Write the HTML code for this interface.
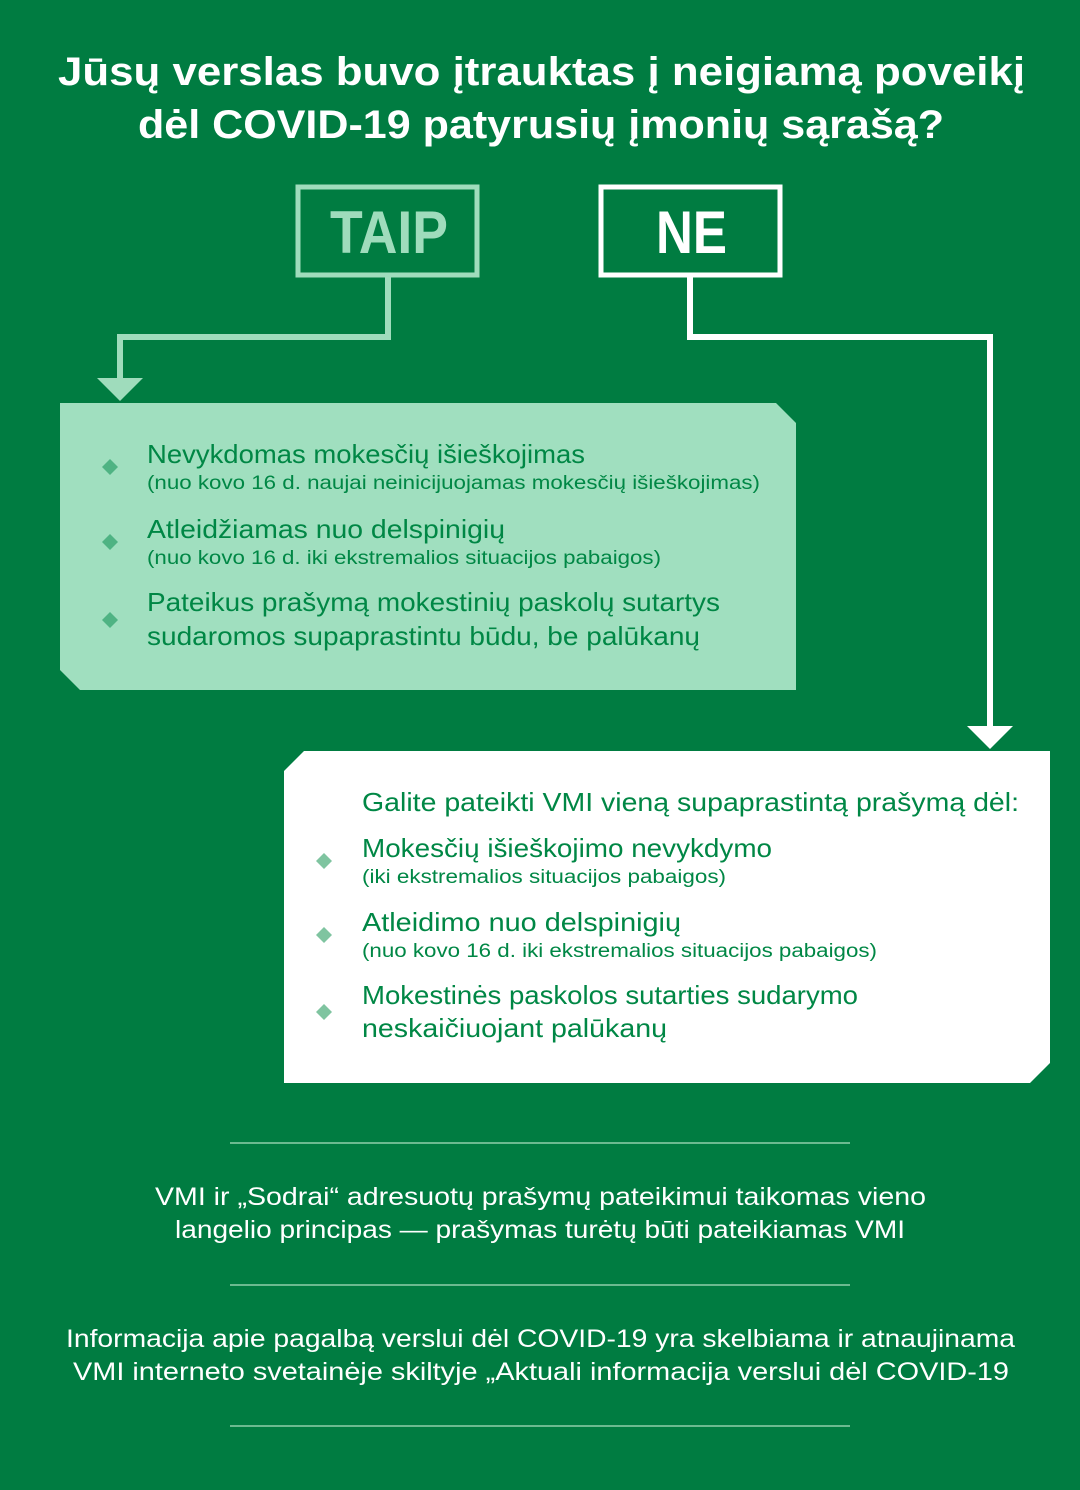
<!DOCTYPE html>
<html><head><meta charset="utf-8"><style>
html,body{margin:0;padding:0;background:#007c41;}
svg{display:block;}
text{font-family:"Liberation Sans",sans-serif;}
</style></head><body>
<svg width="1080" height="1490" viewBox="0 0 1080 1490" xmlns="http://www.w3.org/2000/svg">
<rect width="1080" height="1490" fill="#007c41"/>
<g fill="#ffffff" font-weight="bold" font-size="40">
<text x="58" y="85" textLength="967" lengthAdjust="spacingAndGlyphs">Jūsų verslas buvo įtrauktas į neigiamą poveikį</text>
<text x="138" y="138" textLength="806" lengthAdjust="spacingAndGlyphs">dėl COVID-19 patyrusių įmonių sąrašą?</text>
</g>
<rect x="298" y="187" width="179" height="88" fill="none" stroke="#9fdcbc" stroke-width="5"/>
<text x="330" y="253" font-size="60" font-weight="bold" fill="#9fdcbc" textLength="118" lengthAdjust="spacingAndGlyphs">TAIP</text>
<rect x="601" y="187" width="179" height="88" fill="none" stroke="#ffffff" stroke-width="5"/>
<text x="656" y="253" font-size="60" font-weight="bold" fill="#ffffff" textLength="71" lengthAdjust="spacingAndGlyphs">NE</text>
<polyline points="388,276 388,337 120,337 120,382" fill="none" stroke="#9fdcbc" stroke-width="6"/>
<polygon points="97,378 143,378 120,401" fill="#9fdcbc"/>
<polyline points="690,276 690,337 990,337 990,730" fill="none" stroke="#ffffff" stroke-width="6"/>
<polygon points="967,726 1013,726 990,749" fill="#ffffff"/>
<polygon points="60,403 776,403 796,423 796,690 80,690 60,670" fill="#a0dfbf"/>
<g fill="#4fb383">
<polygon points="110,459 118,467 110,475 102,467"/>
<polygon points="110,534 118,542 110,550 102,542"/>
<polygon points="110,612 118,620 110,628 102,620"/>
</g>
<g fill="#008745">
<text x="147" y="463" font-size="26" textLength="438" lengthAdjust="spacingAndGlyphs">Nevykdomas mokesčių išieškojimas</text>
<text x="147" y="489" font-size="19" textLength="613" lengthAdjust="spacingAndGlyphs">(nuo kovo 16 d. naujai neinicijuojamas mokesčių išieškojimas)</text>
<text x="147" y="538" font-size="26" textLength="358" lengthAdjust="spacingAndGlyphs">Atleidžiamas nuo delspinigių</text>
<text x="147" y="564" font-size="19" textLength="514" lengthAdjust="spacingAndGlyphs">(nuo kovo 16 d. iki ekstremalios situacijos pabaigos)</text>
<text x="147" y="611" font-size="26" textLength="573" lengthAdjust="spacingAndGlyphs">Pateikus prašymą mokestinių paskolų sutartys</text>
<text x="147" y="645" font-size="26" textLength="553" lengthAdjust="spacingAndGlyphs">sudaromos supaprastintu būdu, be palūkanų</text>
</g>
<polygon points="304,751 1050,751 1050,1063 1030,1083 284,1083 284,771" fill="#ffffff"/>
<g fill="#7fc4a0">
<polygon points="324,853 332,861 324,869 316,861"/>
<polygon points="324,927 332,935 324,943 316,935"/>
<polygon points="324,1004 332,1012 324,1020 316,1012"/>
</g>
<g fill="#008745">
<text x="362" y="811" font-size="26" textLength="657" lengthAdjust="spacingAndGlyphs">Galite pateikti VMI vieną supaprastintą prašymą dėl:</text>
<text x="362" y="857" font-size="26" textLength="410" lengthAdjust="spacingAndGlyphs">Mokesčių išieškojimo nevykdymo</text>
<text x="362" y="883" font-size="19" textLength="364" lengthAdjust="spacingAndGlyphs">(iki ekstremalios situacijos pabaigos)</text>
<text x="362" y="931" font-size="26" textLength="319" lengthAdjust="spacingAndGlyphs">Atleidimo nuo delspinigių</text>
<text x="362" y="957" font-size="19" textLength="515" lengthAdjust="spacingAndGlyphs">(nuo kovo 16 d. iki ekstremalios situacijos pabaigos)</text>
<text x="362" y="1004" font-size="26" textLength="496" lengthAdjust="spacingAndGlyphs">Mokestinės paskolos sutarties sudarymo</text>
<text x="362" y="1037" font-size="26" textLength="305" lengthAdjust="spacingAndGlyphs">neskaičiuojant palūkanų</text>
</g>
<g stroke="#8fcfaa" stroke-width="1.5">
<line x1="230" y1="1143" x2="850" y2="1143"/>
<line x1="230" y1="1285" x2="850" y2="1285"/>
<line x1="230" y1="1426" x2="850" y2="1426"/>
</g>
<g fill="#ffffff" font-size="25">
<text x="155" y="1205" textLength="771" lengthAdjust="spacingAndGlyphs">VMI ir „Sodrai“ adresuotų prašymų pateikimui taikomas vieno</text>
<text x="175" y="1238" textLength="730" lengthAdjust="spacingAndGlyphs">langelio principas — prašymas turėtų būti pateikiamas VMI</text>
<text x="66" y="1347" textLength="949" lengthAdjust="spacingAndGlyphs">Informacija apie pagalbą verslui dėl COVID-19 yra skelbiama ir atnaujinama</text>
<text x="73" y="1380" textLength="936" lengthAdjust="spacingAndGlyphs">VMI interneto svetainėje skiltyje „Aktuali informacija verslui dėl COVID-19</text>
</g>
</svg>
</body></html>
